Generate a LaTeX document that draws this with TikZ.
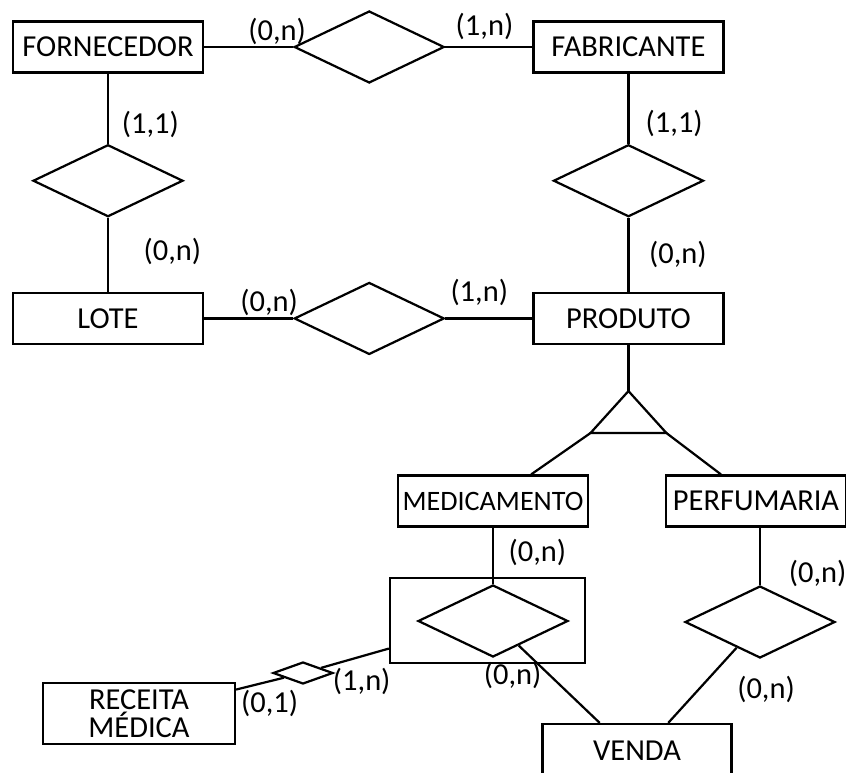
\documentclass[tikz,border=0pt]{standalone}
\usepackage{fontspec}
\setmainfont{Carlito}
\usetikzlibrary{positioning,shapes.geometric}

\begin{document}
\begin{tikzpicture}[
  x=0.3mm, y=-0.3mm,
  line width=1.9pt,
  font=\fontsize{26}{28}\selectfont,
  entity/.style={draw, rectangle, minimum width=57mm, minimum height=15.3mm, inner xsep=1pt, align=center},
  rel/.style={draw, diamond, minimum width=45mm, minimum height=21.6mm, inner sep=0pt},
  card/.style={inner sep=1pt}
]
\useasboundingbox (0,0) rectangle (846,773);

\node[entity] (fornecedor) at (108,47) {FORNECEDOR};
\node[rel, right=26.7mm of fornecedor] (fornfab) {};
\node[entity, right=26.1mm of fornfab] (fabricante) {FABRICANTE};
\node[rel, below=21mm of fornecedor] (fornlote) {};
\node[entity, below=22.2mm of fornlote] (lote) {LOTE};
\node[rel, below=21mm of fabricante] (fabprod) {};
\node[entity, below=22.2mm of fabprod] (produto) {PRODUTO};
\node[rel] (loteprod) at (fornfab |- lote) {};

% generalizacao
\coordinate[below=13.8mm of produto] (isa);
\draw (isa) -- ++(-38,42) coordinate (isaL) -- ++(76,0) coordinate (isaR) -- cycle;

\node[entity, font=\fontsize{24}{28}\selectfont] (medicamento) at (493,501) {MEDICAMENTO};
\node[entity, minimum width=54mm] (perfumaria) at (756,501) {PERFUMARIA};
\node[rel] (medvenda) at (493,621) {};
\node[draw, minimum width=58.5mm, minimum height=25.5mm] (agg) at (487.5,620.5) {};
\node[rel] (perfvenda) at (760,622) {};
\node[entity, minimum width=56.7mm, minimum height=16.2mm] (venda) at (637,751) {VENDA};
\node[entity, minimum width=57.6mm, minimum height=18.3mm, font=\fontsize{26}{24}\selectfont] (receita) at (139,713.5) {RECEITA\\MÉDICA};
\node[draw, diamond, minimum width=18mm, minimum height=6.6mm, inner sep=0pt] (mini) at (303,673) {};

\draw (fornecedor) -- node[card, above, pos=.82] {(0,n)} (fornfab);
\draw (fornfab) -- node[card, above=1.5mm, pos=.45] {(1,n)} (fabricante);
\draw (fornecedor) -- node[card, right=3.5mm, pos=.72] {(1,1)} (fornlote);
\draw (fornlote) -- node[card, right=10mm, pos=.45] {(0,n)} (lote);
\draw (fabricante) -- node[card, right=4.5mm, pos=.71] {(1,1)} (fabprod);
\draw (fabprod) -- node[card, right=5.5mm, pos=.49] {(0,n)} (produto);
\draw (lote) -- node[card, above, pos=.73] {(0,n)} (loteprod);
\draw (loteprod) -- node[card, above=3mm, pos=.39] {(1,n)} (produto);

\draw (produto) -- (isa);
\draw (isaL) -- (medicamento);
\draw (isaR) -- (perfumaria);

\draw (medicamento) -- node[card, right=4mm, pos=.45] {(0,n)} (medvenda);
\draw (perfumaria.south -| perfvenda) -- node[card, right=8mm, pos=.8] {(0,n)} (perfvenda);
\draw (medvenda) -- node[card, left=2mm, pos=.39] {(0,n)} (venda.143);
\draw (perfvenda) -- node[card, right=11mm, pos=.56] {(0,n)} (venda.42);
\draw (receita) -- node[card, below=2mm, pos=.7] {(0,1)} (mini);
\draw (mini) -- node[card, below=3mm, pos=.6] {(1,n)} (agg);
\end{tikzpicture}
\end{document}
